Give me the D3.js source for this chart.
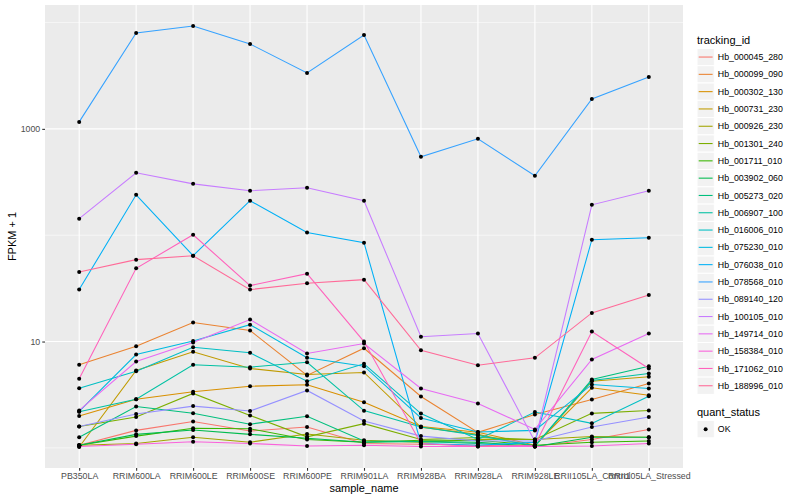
<!DOCTYPE html>
<html>
<head>
<meta charset="utf-8">
<script src="https://cdn.jsdelivr.net/npm/d3@7"></script>
<style>
  body { margin: 0; background: #fff; }
  text { font-family: "Liberation Sans", Arial, sans-serif; }
</style>
</head>
<body>
<div id="chart"></div>
<script>
// FPKM + 1 per gene across samples

const samples = ["PB350LA", "RRIM600LA", "RRIM600LE", "RRIM600SE", "RRIM600PE", "RRIM901LA",
    "RRIM928BA", "RRIM928LA", "RRIM928LE", "RRII105LA_Control", "RRII105LA_Stressed"];

const trackingIds = ["Hb_000045_280", "Hb_000099_090", "Hb_000302_130", "Hb_000731_230", "Hb_000926_230",
    "Hb_001301_240", "Hb_001711_010", "Hb_003902_060", "Hb_005273_020", "Hb_006907_100",
    "Hb_016006_010", "Hb_075230_010", "Hb_076038_010", "Hb_078568_010", "Hb_089140_120",
    "Hb_100105_010", "Hb_149714_010", "Hb_158384_010", "Hb_171062_010", "Hb_188996_010"];

const hb_000045_280 = [1.06, 1.46, 1.77, 1.44, 1.57, 1.10, 1.08, 1.06, 1.03, 1.20, 1.49];
const hb_000099_090 = [6.04, 9.03, 15.1, 12.7, 4.80, 8.65, 3.04, 1.40, 2.06, 2.85, 4.03];
const hb_000302_130 = [1.99, 2.87, 3.37, 3.80, 3.92, 2.69, 1.59, 1.40, 1.06, 3.67, 3.13];
const hb_000731_230 = [1.02, 5.34, 8.00, 5.58, 4.90, 5.12, 1.56, 1.34, 1.03, 4.24, 4.66];
const hb_000926_230 = [1.06, 1.10, 1.26, 1.13, 1.35, 1.18, 1.13, 1.20, 1.20, 1.28, 1.26];
const hb_001301_240 = [1.59, 1.95, 3.25, 2.02, 1.27, 1.69, 1.20, 1.25, 1.20, 2.11, 2.25];
const hb_001711_010 = [1.06, 1.29, 1.53, 1.51, 1.20, 1.13, 1.18, 1.18, 1.06, 1.13, 1.16];
const hb_003902_060 = [1.06, 1.34, 1.47, 1.34, 1.23, 1.13, 1.15, 1.13, 1.03, 1.26, 1.26];
const hb_005273_020 = [1.26, 2.45, 2.12, 1.67, 1.98, 1.16, 1.15, 1.10, 1.04, 4.40, 5.86];
const hb_006907_100 = [2.19, 2.87, 6.04, 5.74, 6.39, 2.24, 1.57, 1.31, 1.04, 4.30, 5.01];
const hb_016006_010 = [3.64, 5.26, 8.84, 7.83, 4.24, 6.17, 2.10, 1.20, 2.17, 1.70, 3.06];
const hb_075230_010 = [2.20, 7.55, 10.1, 14.4, 7.03, 5.86, 1.91, 1.41, 1.46, 3.95, 3.62];
const hb_076038_010 = [30.8, 240, 64.2, 211, 106, 85.0, 1.10, 1.06, 1.13, 90.7, 94.7];
const hb_078568_010 = [1163, 7970, 9270, 6283, 3356, 7630, 546, 806, 362, 1912, 3078];
const hb_089140_120 = [1.59, 2.08, 2.47, 2.22, 3.47, 1.79, 1.29, 1.16, 1.16, 1.57, 1.95];
const hb_100105_010 = [143, 386, 304, 262, 279, 211, 11.1, 11.9, 1.15, 193, 262];
const hb_149714_010 = [2.25, 6.49, 9.79, 16.1, 7.72, 9.58, 3.62, 2.62, 1.49, 6.78, 11.9];
const hb_158384_010 = [1.03, 1.08, 1.14, 1.10, 1.04, 1.06, 1.03, 1.03, 1.03, 1.04, 1.10];
const hb_171062_010 = [4.47, 48.8, 101, 33.6, 43.5, 10.0, 1.10, 1.03, 1.06, 12.4, 5.58];
const hb_188996_010 = [45.1, 58.9, 64.2, 30.8, 35.3, 38.2, 8.28, 5.99, 7.03, 18.6, 27.4];

const seriesValues = [hb_000045_280, hb_000099_090, hb_000302_130, hb_000731_230, hb_000926_230,
    hb_001301_240, hb_001711_010, hb_003902_060, hb_005273_020, hb_006907_100,
    hb_016006_010, hb_075230_010, hb_076038_010, hb_078568_010, hb_089140_120,
    hb_100105_010, hb_149714_010, hb_158384_010, hb_171062_010, hb_188996_010];

const yBreaks = [10, 1000];
const yMinorBreaks = [1, 100, 10000];
const quantStatus = ["OK"];

// ggplot's default hue palette (hcl in polar LUV, c=100, l=65)
function hueColor(h) {
    let L = 65, C = 100, hr = h * Math.PI / 180;
    let U = C * Math.cos(hr), V = C * Math.sin(hr);
    let Xn = 95.047, Yn = 100, Zn = 108.883;
    let den = Xn + 15 * Yn + 3 * Zn;
    let un = 4 * Xn / den, vn = 9 * Yn / den;
    let Y = Yn * Math.pow((L + 16) / 116, 3);
    let u = U / (13 * L) + un, v = V / (13 * L) + vn;
    let X = Y * 9 * u / (4 * v);
    let Z = Y * (12 - 3 * u - 20 * v) / (4 * v);
    let x = X / 100, y = Y / 100, z = Z / 100;
    let r = 3.240479 * x - 1.537150 * y - 0.498535 * z;
    let g = -0.969256 * x + 1.875992 * y + 0.041556 * z;
    let b = 0.055648 * x - 0.204043 * y + 1.057311 * z;
    let gam = t => t <= 0.0031308 ? 12.92 * t : 1.055 * Math.pow(t, 1 / 2.4) - 0.055;
    let c = [r, g, b].map(t => Math.round(255 * Math.max(0, Math.min(1, gam(t)))));
    return d3.rgb(c[0], c[1], c[2]).formatHex();
}

const colors = trackingIds.map((d, i) => hueColor(15 + i * 360 / trackingIds.length));

const W = 800, H = 500;
const panel = {left: 45, right: 683, top: 5, bottom: 468};

const svg = d3.select("#chart").append("svg")
    .attr("width", W)
    .attr("height", H);

// scales
const x = d3.scalePoint()
    .domain(samples)
    .range([panel.left, panel.right])
    .padding(0.6);

let allVals = seriesValues.flat();
let lo = Math.log10(d3.min(allVals)), hi = Math.log10(d3.max(allVals));
let pad = (hi - lo) * 0.05;
const y = d3.scaleLog()
    .domain([Math.pow(10, lo - pad), Math.pow(10, hi + pad)])
    .range([panel.bottom, panel.top]);

// panel background + grid
svg.append("rect")
    .attr("x", panel.left).attr("y", panel.top)
    .attr("width", panel.right - panel.left)
    .attr("height", panel.bottom - panel.top)
    .attr("fill", "#EBEBEB");

svg.selectAll(".minor").data(yMinorBreaks).enter().append("line")
    .attr("x1", panel.left).attr("x2", panel.right)
    .attr("y1", d => y(d)).attr("y2", d => y(d))
    .attr("stroke", "white").attr("stroke-width", 0.55);

svg.selectAll(".major").data(yBreaks).enter().append("line")
    .attr("x1", panel.left).attr("x2", panel.right)
    .attr("y1", d => y(d)).attr("y2", d => y(d))
    .attr("stroke", "white").attr("stroke-width", 1.1);

svg.selectAll(".vgrid").data(samples).enter().append("line")
    .attr("x1", d => x(d)).attr("x2", d => x(d))
    .attr("y1", panel.top).attr("y2", panel.bottom)
    .attr("stroke", "white").attr("stroke-width", 1.1);

// axes
let yAxis = svg.append("g")
    .attr("transform", "translate(" + panel.left + ",0)")
    .call(d3.axisLeft(y).tickValues(yBreaks).tickFormat(d3.format("d")).tickSize(2.75).tickPadding(2));
let xAxis = svg.append("g")
    .attr("transform", "translate(0," + panel.bottom + ")")
    .call(d3.axisBottom(x).tickSize(2.75).tickPadding(2));

[xAxis, yAxis].forEach(function(a){
    a.select(".domain").remove();
    a.selectAll(".tick line").attr("stroke", "#333333").attr("stroke-width", 1.1);
    a.selectAll(".tick text")
        .attr("fill", "#4D4D4D")
        .style("font-size", "8.8px")
        .style("font-family", "'Liberation Sans', Arial, sans-serif");
});

// axis titles
svg.append("text")
    .text("sample_name")
    .attr("x", (panel.left + panel.right) / 2)
    .attr("y", 492)
    .attr("text-anchor", "middle")
    .style("font-size", "11px");

svg.append("text")
    .text("FPKM + 1")
    .attr("transform", "translate(16," + (panel.top + panel.bottom) / 2 + ") rotate(-90)")
    .attr("text-anchor", "middle")
    .style("font-size", "11px");

// lines
let line = d3.line()
    .x((d, i) => x(samples[i]))
    .y(d => y(d));

svg.selectAll(".series").data(seriesValues).enter().append("path")
    .attr("d", d => line(d))
    .attr("fill", "none")
    .attr("stroke", (d, i) => colors[i])
    .attr("stroke-width", 1.07);

// points
seriesValues.forEach(function(vals){
    svg.selectAll(null).data(vals).enter().append("circle")
        .attr("cx", (d, i) => x(samples[i]))
        .attr("cy", d => y(d))
        .attr("r", 2)
        .attr("fill", "black");
});

// legend: tracking_id
let legX = 697, keySize = 17.3, legTop = 48.4;
let leg = svg.append("g");

leg.append("text")
    .text("tracking_id")
    .attr("x", legX).attr("y", 44)
    .style("font-size", "11px");

let item = leg.selectAll(".item").data(trackingIds).enter().append("g")
    .attr("transform", (d, i) => "translate(" + legX + "," + (legTop + i * keySize) + ")");

item.append("rect")
    .attr("width", keySize).attr("height", keySize)
    .attr("fill", "#F2F2F2").attr("stroke", "white").attr("stroke-width", 1);

item.append("line")
    .attr("x1", 1.7).attr("x2", keySize - 1.7)
    .attr("y1", keySize / 2).attr("y2", keySize / 2)
    .attr("stroke", (d, i) => colors[i])
    .attr("stroke-width", 1.07);

item.append("text")
    .text(d => d)
    .attr("x", keySize + 3.5)
    .attr("y", keySize / 2 + 3.1)
    .style("font-size", "8.8px");

// legend: quant_status
leg.append("text")
    .text("quant_status")
    .attr("x", legX).attr("y", 416)
    .style("font-size", "11px");

let q = leg.selectAll(".qitem").data(quantStatus).enter().append("g")
    .attr("transform", "translate(" + legX + ",420.5)");

q.append("rect")
    .attr("width", keySize).attr("height", keySize)
    .attr("fill", "#F2F2F2").attr("stroke", "white");

q.append("circle")
    .attr("cx", keySize / 2).attr("cy", keySize / 2)
    .attr("r", 2).attr("fill", "black");

q.append("text")
    .text(d => d)
    .attr("x", keySize + 3.5)
    .attr("y", keySize / 2 + 3.1)
    .style("font-size", "8.8px");
</script>
</body>
</html>
